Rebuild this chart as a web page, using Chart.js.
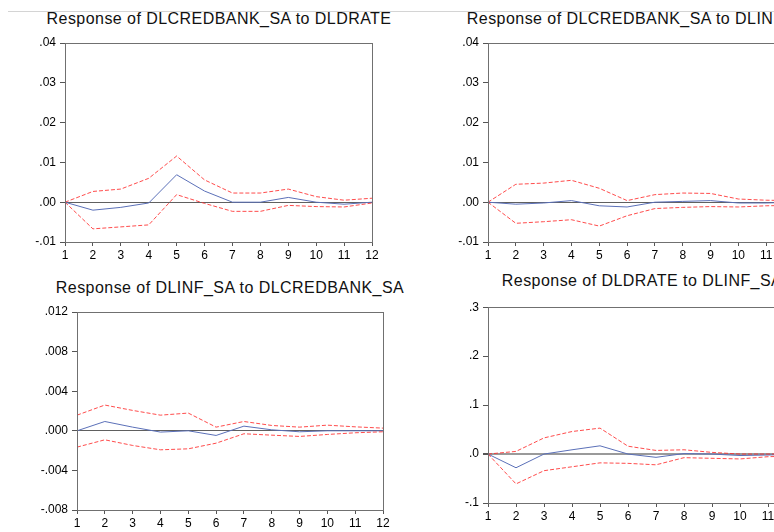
<!DOCTYPE html>
<html>
<head>
<meta charset="utf-8">
<script src="https://cdn.jsdelivr.net/npm/chart.js@4.4.0/dist/chart.umd.min.js"></script>
<style>
html, body { margin:0; padding:0; background:#fff; overflow:hidden; width:774px; height:532px; }
#wrap { position:relative; width:774px; height:532px; overflow:hidden; }
canvas { position:absolute; }
.ttl { position:absolute; width:600px; text-align:center; font:16px "Liberation Sans", Arial, sans-serif;
       letter-spacing:0.45px; white-space:nowrap; line-height:16px; color:#111; }
#rule { position:absolute; left:8px; top:11px; width:766px; border-top:1px solid #d4d4d4; }
</style>
</head>
<body>
<div id="wrap">
  <div id="rule"></div>
  <div class="ttl" style="left:-81px;top:11px">Response of DLCREDBANK_SA to DLDRATE</div>
  <div class="ttl" style="left:341px;top:11px">Response of DLCREDBANK_SA to DLINF_SA</div>
  <div class="ttl" style="left:-70px;top:280px">Response of DLINF_SA to DLCREDBANK_SA</div>
  <div class="ttl" style="left:342px;top:273px">Response of DLDRATE to DLINF_SA</div>
  <canvas id="c1" width="400" height="236" style="left:0;top:30px"></canvas>
  <canvas id="c2" width="420" height="236" style="left:400px;top:30px"></canvas>
  <canvas id="c3" width="400" height="236" style="left:0;top:296px"></canvas>
  <canvas id="c4" width="420" height="236" style="left:400px;top:296px"></canvas>
</div>
<script>
// periods after the shock
var periods = ['1','2','3','4','5','6','7','8','9','10','11','12'];

// DLCREDBANK_SA to DLDRATE
var credRate   = [0, -0.0020, -0.0013, -0.0002, 0.0069, 0.0028, 0, 0, 0.0012, 0, -0.0005, 0];
var credRateUp = [0, 0.0027, 0.0033, 0.0060, 0.0116, 0.0056, 0.0023, 0.0023, 0.0033, 0.0014, 0.0005, 0.0010];
var credRateLo = [0, -0.0067, -0.0062, -0.0057, 0.0019, -0.0003, -0.0023, -0.0023, -0.0008, -0.0011, -0.0012, -0.0002];

// DLCREDBANK_SA to DLINF_SA
var credInf   = [0, -0.0005, -0.0002, 0.0004, -0.0009, -0.0012, 0, 0.0002, 0.0004, -0.0002, -0.0002, 0];
var credInfUp = [0, 0.0045, 0.0048, 0.0055, 0.0035, 0.0004, 0.0019, 0.0023, 0.0022, 0.0008, 0.0005, 0.0004];
var credInfLo = [0, -0.0053, -0.0049, -0.0044, -0.0060, -0.0034, -0.0016, -0.0013, -0.0011, -0.0012, -0.0009, -0.0008];

// DLINF_SA to DLCREDBANK_SA
var infCred   = [0, 0.00094, 0.00037, -0.00013, 0, -0.00047, 0.00047, 0.0001, -0.0001, 0, 0, 0];
var infCredUp = [0.00158, 0.0026, 0.00206, 0.00158, 0.00179, 0.00037, 0.00094, 0.00054, 0.00037, 0.00057, 0.0004, 0.00027];
var infCredLo = [-0.00165, -0.00091, -0.00148, -0.00192, -0.00182, -0.00125, -0.0003, -0.00044, -0.00057, -0.00037, -0.0002, -0.0001];

// DLDRATE to DLINF_SA
var rateInf   = [0, -0.028, 0, 0.0087, 0.0168, 0, -0.0067, 0.001, 0, -0.003, -0.002, 0];
var rateInfUp = [0, 0.0054, 0.033, 0.046, 0.053, 0.016, 0.0074, 0.0087, 0.0034, 0, 0, 0];
var rateInfLo = [0, -0.061, -0.034, -0.026, -0.018, -0.019, -0.022, -0.0074, -0.0087, -0.010, -0.0054, -0.004];

var FONT = '"Liberation Sans", Arial, sans-serif';

var frame = {
  id: 'frame',
  afterDraw: function(chart) {
    var a = chart.chartArea, ctx = chart.ctx;
    ctx.save();
    ctx.strokeStyle = '#707070';
    ctx.lineWidth = 1;
    ctx.strokeRect(Math.round(a.left) + 0.5, Math.round(a.top) + 0.5,
                   Math.round(a.right - a.left), Math.round(a.bottom - a.top));
    ctx.restore();
  }
};

function fmt(dec) {
  return function(v) {
    var s = Math.abs(v).toFixed(dec).replace(/^0/, '');
    return (v < -1e-9 ? '-' : '') + s;
  };
}

function panel(id, mid, up, lo, ymin, ymax, step, dec, pad, zeroW, zeroC) {
  new Chart(document.getElementById(id).getContext('2d'), {
    type: 'line',
    data: {
      labels: periods,
      datasets: [
        { data: up, borderColor: 'rgba(255,45,45,0.85)', borderWidth: 1, borderDash: [4, 2], pointRadius: 0, tension: 0 },
        { data: lo, borderColor: 'rgba(255,45,45,0.85)', borderWidth: 1, borderDash: [4, 2], pointRadius: 0, tension: 0 },
        { data: mid, borderColor: '#5b70b8', borderWidth: 1, pointRadius: 0, tension: 0 }
      ]
    },
    options: {
      responsive: false,
      animation: false,
      events: [],
      layout: { padding: pad },
      plugins: { legend: { display: false }, tooltip: { enabled: false }, title: { display: false } },
      scales: {
        x: {
          offset: false,
          afterFit: function(s) { s.height = 20; },
          grid: { drawOnChartArea: false, drawTicks: true, tickLength: 4, tickColor: '#555' },
          border: { display: true, color: '#707070' },
          ticks: { color: '#000', padding: 2, maxRotation: 0, autoSkip: false, font: { family: FONT, size: 12 } }
        },
        y: {
          min: ymin, max: ymax,
          afterFit: function(s) { s.width = 45; },
          grid: {
            drawTicks: true, tickLength: 5, tickColor: '#555',
            color: function(c) { return c.tick && Math.abs(c.tick.value) < 1e-9 ? zeroC : 'rgba(0,0,0,0)'; },
            lineWidth: function(c) { return c.tick && Math.abs(c.tick.value) < 1e-9 ? zeroW : 1; }
          },
          border: { display: true, color: '#707070' },
          ticks: { stepSize: step, color: '#000', padding: 4, callback: fmt(dec), font: { family: FONT, size: 12 } }
        }
      }
    },
    plugins: [frame]
  });
}

panel('c1', credRate, credRateUp, credRateLo, -0.01, 0.04, 0.01, 2,
      { left: 20, right: 28, top: 13, bottom: 4 }, 1, '#606060');
panel('c2', credInf, credInfUp, credInfLo, -0.01, 0.04, 0.01, 2,
      { left: 43, right: 26, top: 13, bottom: 4 }, 1, '#606060');
panel('c3', infCred, infCredUp, infCredLo, -0.008, 0.012, 0.004, 3,
      { left: 32, right: 17, top: 16, bottom: 2 }, 1, '#606060');
panel('c4', rateInf, rateInfUp, rateInfLo, -0.1, 0.3, 0.1, 1,
      { left: 43, right: 24, top: 9, bottom: 9 }, 2, '#9a9a9a');
</script>
</body>
</html>
